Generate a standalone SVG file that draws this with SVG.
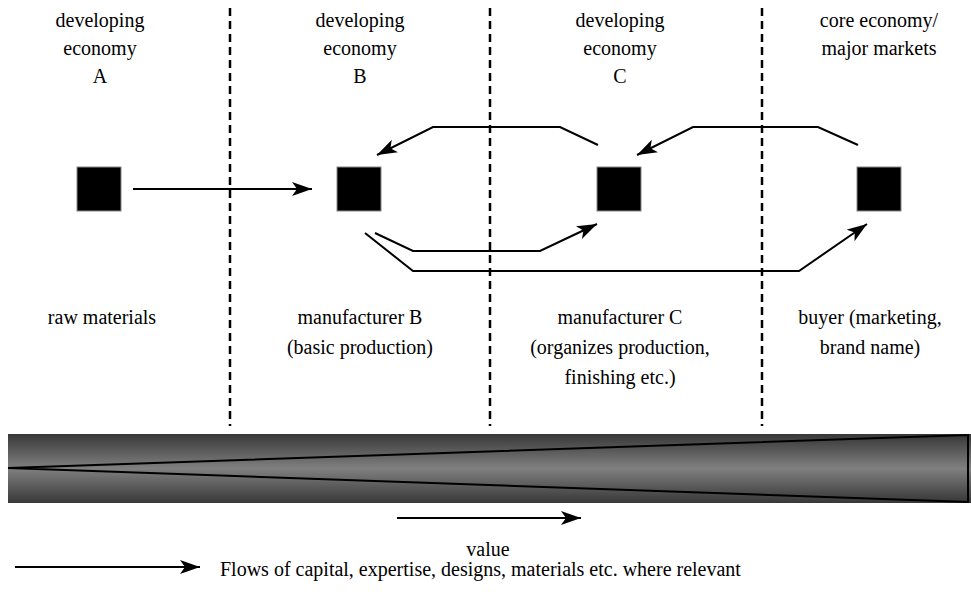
<svg xmlns="http://www.w3.org/2000/svg" width="971" height="610" viewBox="0 0 971 610">
<defs>
<style>
.t{font-size:20px;fill:#000;text-anchor:middle}
.lbl{text-anchor:start}
.div{stroke:#000;stroke-width:2.5;stroke-dasharray:8 5;fill:none}
.node{fill:#000;stroke:#888;stroke-width:1}
.con{fill:none;stroke:#000;stroke-width:2;stroke-linejoin:miter}
</style>
<marker id="ah" markerUnits="userSpaceOnUse" markerWidth="22" markerHeight="16" refX="20" refY="7" orient="auto" viewBox="0 0 22 16">
<path d="M0,0 L20,7 L0,14 L5,7 Z" fill="#000"/>
</marker>
<linearGradient id="bar" x1="0" y1="0" x2="0" y2="1">
<stop offset="0" stop-color="#383838"/>
<stop offset="0.5" stop-color="#808080"/>
<stop offset="1" stop-color="#383838"/>
</linearGradient>
</defs>
<g id="dividers">
<line class="div" x1="230" y1="8" x2="230" y2="426"/>
<line class="div" x1="490" y1="8" x2="490" y2="426"/>
<line class="div" x1="762" y1="8" x2="762" y2="426"/>
</g>
<g font-family="Liberation Serif, Times New Roman, serif">
<g id="headers">
<text class="t" x="100" y="27">developing</text>
<text class="t" x="100" y="55">economy</text>
<text class="t" x="100" y="83">A</text>
<text class="t" x="360" y="27">developing</text>
<text class="t" x="360" y="55">economy</text>
<text class="t" x="360" y="83">B</text>
<text class="t" x="620" y="27">developing</text>
<text class="t" x="620" y="55">economy</text>
<text class="t" x="620" y="83">C</text>
<text class="t" x="879" y="27">core economy/</text>
<text class="t" x="879" y="55">major markets</text>
</g>
<g id="nodeA"><rect class="node" x="77" y="167" width="44" height="44"/><text class="t" x="102" y="324">raw materials</text></g>
<g id="nodeB"><rect class="node" x="337" y="167" width="44" height="44"/><text class="t" x="360" y="324">manufacturer B</text><text class="t" x="360" y="354">(basic production)</text></g>
<g id="nodeC"><rect class="node" x="597" y="167" width="44" height="44"/><text class="t" x="620" y="324">manufacturer C</text><text class="t" x="620" y="354">(organizes production,</text><text class="t" x="620" y="384">finishing etc.)</text></g>
<g id="nodeD"><rect class="node" x="857" y="167" width="44" height="44"/><text class="t" x="870" y="324">buyer (marketing,</text><text class="t" x="870" y="354">brand name)</text></g>
<g id="connectors">
<path class="con" d="M133,189 L312,189" marker-end="url(#ah)"/>
<path class="con" d="M598,145 L560,127 L433,127 L377,155" marker-end="url(#ah)"/>
<path class="con" d="M858,145 L818,127 L693,127 L637,155" marker-end="url(#ah)"/>
<path class="con" d="M375,233 L413,251 L540,251 L597,224" marker-end="url(#ah)"/>
<path class="con" d="M365,233 L413,271 L799,271 L867,224" marker-end="url(#ah)"/>
</g>
<g id="valuebar">
<rect x="8" y="434" width="963" height="69" fill="url(#bar)"/>
<path d="M8,468 L968,435 L968,502 Z" fill="url(#bar)" stroke="#000" stroke-width="2"/>
<path class="con" d="M397,518 L581,518" marker-end="url(#ah)"/>
<text class="t" x="488" y="556">value</text>
</g>
<g id="legend">
<path class="con" d="M15,567 L200,567" marker-end="url(#ah)"/>
<text class="t lbl" x="220" y="576">Flows of capital, expertise, designs, materials etc. where relevant</text>
</g>
</g>
</svg>
